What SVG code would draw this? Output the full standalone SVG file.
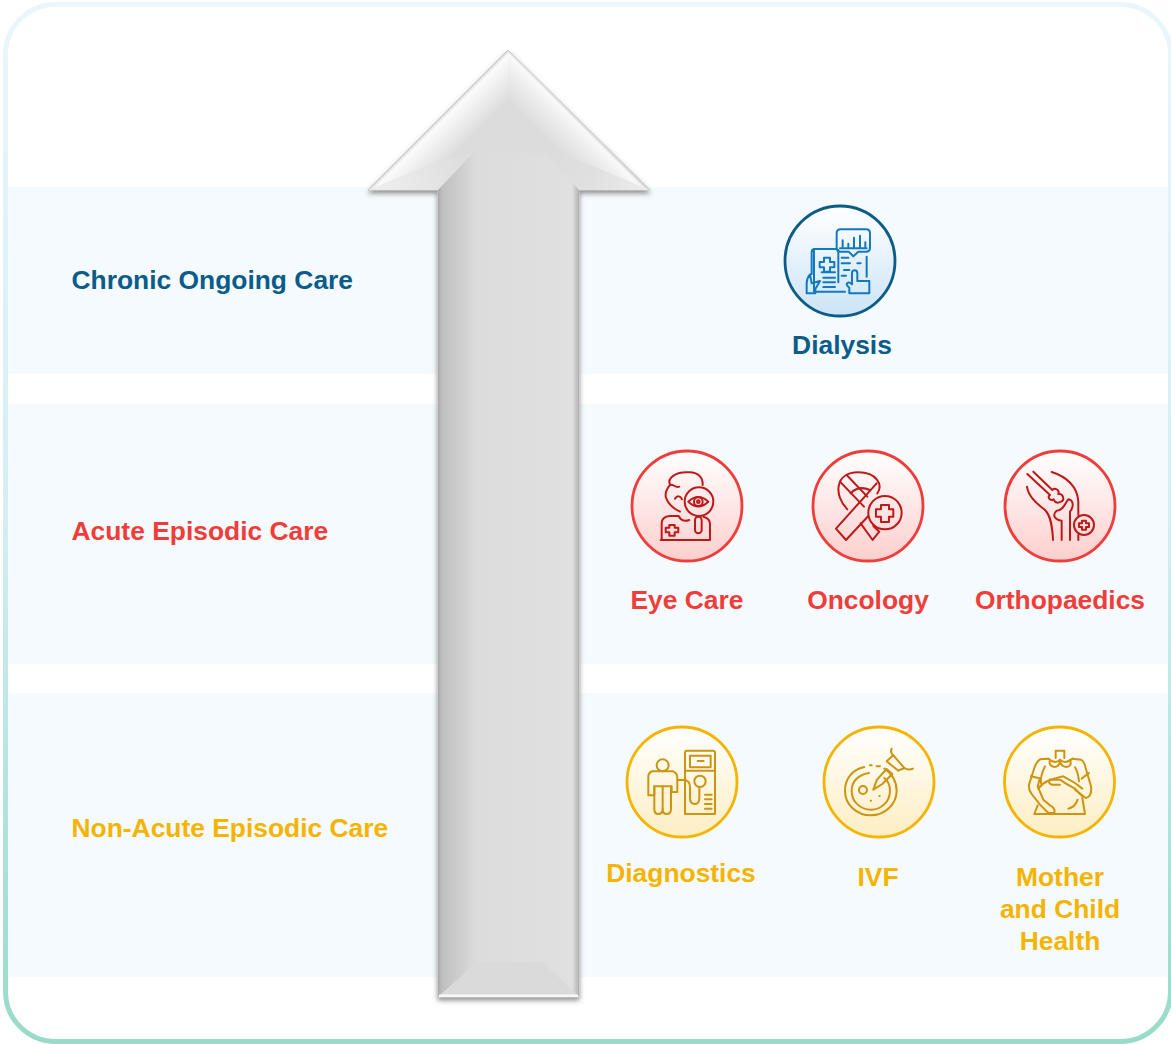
<svg xmlns="http://www.w3.org/2000/svg" width="1171" height="1044" viewBox="0 0 1171 1044">
<style>
.band{fill:#f4fafd}
.t{font-family:"Liberation Sans",Arial,sans-serif;font-weight:700;font-size:26.4px}
.m{text-anchor:middle}
.b{fill:#0b5c8a}.r{fill:#ef3e3a}.y{fill:#f5b400}
.ic{fill:none;stroke-width:6;stroke-linecap:round;stroke-linejoin:round}
.ib{stroke:#1379bd}.ir{stroke:#bb1a1a}.iy{stroke:#cc9410}
</style>
<defs>
<linearGradient id="frame" x1="0" y1="0" x2="0" y2="1"><stop offset="0" stop-color="#eaf6fc"/><stop offset=".5" stop-color="#d4eef2"/><stop offset="1" stop-color="#97dbc8"/></linearGradient>
<linearGradient id="gb" x1="0" y1="0" x2="0" y2="1"><stop offset="0" stop-color="#fff"/><stop offset="1" stop-color="#cbe4f6"/></linearGradient>
<linearGradient id="gr" x1="0" y1="0" x2="0" y2="1"><stop offset="0" stop-color="#fff"/><stop offset="1" stop-color="#fdcfcd"/></linearGradient>
<linearGradient id="gy" x1="0" y1="0" x2="0" y2="1"><stop offset="0" stop-color="#fff"/><stop offset="1" stop-color="#fdeec2"/></linearGradient>
<linearGradient id="shaft" gradientUnits="userSpaceOnUse" x1="438" y1="0" x2="579" y2="0"><stop offset="0" stop-color="#a9a9a9"/><stop offset=".03" stop-color="#c0c0c0"/><stop offset=".28" stop-color="#dcdcdc"/><stop offset=".95" stop-color="#e0e0e0"/><stop offset=".99" stop-color="#bdbdbd"/><stop offset="1" stop-color="#a9a9a9"/></linearGradient>
<linearGradient id="hl" gradientUnits="userSpaceOnUse" x1="438" y1="120" x2="470" y2="152"><stop offset="0" stop-color="#d4d4d4"/><stop offset=".07" stop-color="#fafafa"/><stop offset=".25" stop-color="#f4f4f4"/><stop offset=".8" stop-color="#dcdcdc"/></linearGradient>
<linearGradient id="hr" gradientUnits="userSpaceOnUse" x1="579" y1="120" x2="547" y2="152"><stop offset="0" stop-color="#d4d4d4"/><stop offset=".07" stop-color="#fafafa"/><stop offset=".25" stop-color="#f0f0f0"/><stop offset=".8" stop-color="#dcdcdc"/></linearGradient>
<linearGradient id="wl" gradientUnits="userSpaceOnUse" x1="369" y1="190" x2="470" y2="150"><stop offset="0" stop-color="#f0f0f0"/><stop offset="1" stop-color="#dcdcdc"/></linearGradient>
<linearGradient id="wr" gradientUnits="userSpaceOnUse" x1="649" y1="190" x2="545" y2="150"><stop offset="0" stop-color="#eeeeee"/><stop offset=".5" stop-color="#e0e0e0"/><stop offset="1" stop-color="#dcdcdc"/></linearGradient>
<filter id="sh" x="-10%" y="-5%" width="120%" height="110%"><feDropShadow dx="0" dy="3" stdDeviation="2.500" flood-color="#555" flood-opacity=".65"/></filter>
</defs>

<g id="frame-fill"><rect x="5.500" y="4.500" width="1165" height="1037" rx="50" fill="#fff"/></g>
<g id="bands">
<rect class="band" x="8" y="187" width="1161" height="187"/>
<rect class="band" x="8" y="404" width="1161" height="260"/>
<rect class="band" x="8" y="693" width="1161" height="284"/>
</g>
<g id="frame-box"><rect x="5.500" y="4.500" width="1165" height="1037" rx="50" fill="none" stroke="url(#frame)" stroke-width="5"/></g>

<g id="arrow">
<path d="M508 50L650 190H579V997H438V190H368Z" fill="#dcdcdc" stroke="#c8c8c8" stroke-width="1" filter="url(#sh)"/>
<path d="M508 50.500L369 189.500H438L473 153H508Z" fill="url(#hl)"/>
<path d="M508 50.500L649 189.500H579L545 153H508Z" fill="url(#hr)"/>
<path d="M369 189.500L433 163L473 153L438 190Z" fill="url(#wl)"/>
<path d="M649 189.500L562 153H545L579 190Z" fill="url(#wr)"/>
<path d="M438 190L473 153H545L579 190V996H438Z" fill="url(#shaft)"/>
<path d="M440 995L477 962H543L577 995Z" fill="#dadada"/>
<rect x="439" y="994.500" width="139" height="2.500" fill="#f7f7f7"/>
</g>

<g id="row-chronic"><text class="t b" x="71.500" y="289">Chronic Ongoing Care</text></g>
<g id="row-acute"><text class="t r" x="71.500" y="540">Acute Episodic Care</text></g>
<g id="row-nonacute"><text class="t y" x="71.500" y="837">Non-Acute Episodic Care</text></g>

<g id="dialysis">
<circle cx="840" cy="261" r="55" fill="url(#gb)" stroke="#0b5c86" stroke-width="2.800"/>
<g class="ic ib" transform="translate(770 195) scale(.3333)">
<path d="M212 103H288Q300 103 300 115V158Q300 170 288 170H265L250 184L236 170H212Q200 170 200 158V115Q200 103 212 103Z"/>
<path d="M218 160V136M235 160V146M252 160V128M270 160V122M286 160V142M210 160H290"/>
<path d="M200 162H135Q125 162 125 172V238M132 162V290H225M205 165V262M290 185V245"/>
<path d="M162 188H180V201H193V217H180V230H162V217H149V201H162Z"/>
<path d="M155 232H195M160 248H195M160 262H195M160 276H195"/>
<path d="M215 188H235M215 205H240M262 205H272M222 225H238M215 242H228"/>
<path d="M110 295V265Q110 250 120 238L125 265L150 258L136 282V295Z"/>
<path d="M238 295V278Q226 268 232 264Q238 260 246 268V235Q246 226 254 226Q262 226 262 235V258H298V295Z"/>
</g>
<text class="t b m" x="842" y="354">Dialysis</text>
</g>

<g id="eye-care">
<circle cx="687" cy="506" r="55" fill="url(#gr)" stroke="#ef3e3a" stroke-width="2.800"/>
<g class="ic ir" transform="translate(620 440) scale(.3333)">
<path d="M150 135C140 112 170 95 205 97C232 95 250 112 248 135"/>
<path d="M150 135C160 130 165 145 178 140"/>
<path d="M150 135C138 150 133 165 140 178C148 195 165 208 180 215"/>
<path d="M165 176C172 165 182 168 186 178"/>
<circle cx="237" cy="185" r="43"/>
<path d="M205 185Q235 157 265 185Q235 213 205 185Z"/>
<circle cx="235" cy="185" r="13"/><circle cx="235" cy="185" r="4"/>
<rect x="225" y="230" width="20" height="50" rx="10"/>
<path d="M122 300H270V252Q270 235 250 230M125 300V250Q125 230 150 228H176Q186 248 208 240"/>
<path d="M148 255H164V263H175V277H164V287H148V277H137V263H148Z"/>
</g>
<text class="t r m" x="687" y="609">Eye Care</text>
</g>

<g id="oncology">
<circle cx="868" cy="506" r="55" fill="url(#gr)" stroke="#ef3e3a" stroke-width="2.800"/>
<g class="ic ir" transform="translate(620 440) scale(.3333)">
<path d="M682 208C640 165 645 97 715 97C770 97 790 135 772 160"/>
<path d="M692 160Q715 135 750 150"/>
<path d="M660 125L732 200M680 105L742 170"/>
<path d="M770 130L648 266L678 300L745 228"/>
<path d="M722 250L758 300L778 275L760 258"/>
<circle cx="795" cy="218" r="50"/>
<path d="M783 195H807V208H820V230H807V246H783V230H768V208H783Z"/>
</g>
<text class="t r m" x="868" y="609">Oncology</text>
</g>

<g id="orthopaedics">
<circle cx="1060" cy="506" r="55" fill="url(#gr)" stroke="#ef3e3a" stroke-width="2.800"/>
<g class="ic ir" transform="translate(995 440) scale(.3333)">
<path d="M97 102L165 165C155 170 165 185 176 178C178 185 185 192 198 185C210 180 205 160 190 162C195 150 180 142 172 150L115 95"/>
<path d="M96 140C100 170 125 190 150 210C168 228 172 260 174 300"/>
<path d="M170 96C215 110 248 140 250 185V225M250 285V300"/>
<path d="M200 300V242C180 240 170 225 185 212C205 212 210 190 220 178C235 180 238 200 225 215V300"/>
<circle cx="267" cy="255" r="30"/>
<path d="M261 242H273V250H282V261H273V269H261V261H252V250H261Z"/>
</g>
<text class="t r m" x="1060" y="609">Orthopaedics</text>
</g>

<g id="diagnostics">
<circle cx="682" cy="782" r="55" fill="url(#gy)" stroke="#f5b400" stroke-width="2.800"/>
<g class="ic iy" transform="translate(615 718) scale(.3333)">
<circle cx="143" cy="142" r="18"/>
<path d="M110 160H175Q187 165 187 180V222H170V205H118V232H100V175Q100 165 110 160Z"/>
<path d="M118 205V272Q118 288 130 288Q143 288 143 272Q143 288 155 288Q168 288 168 272V205"/>
<path d="M143 205V272"/>
<path d="M216 98H294Q300 98 300 104V288H210V104Q210 98 216 98Z"/>
<rect x="225" y="113" width="62" height="35"/>
<path d="M248 129H266M210 158H300"/>
<circle cx="255" cy="190" r="17"/>
<path d="M187 186H205Q225 186 225 206V240Q225 258 240 258Q253 258 253 240V207"/>
<path d="M270 230H290M270 244H290M270 258H290M270 272H290"/>
</g>
<text class="t y m" x="681" y="882">Diagnostics</text>
</g>

<g id="ivf">
<circle cx="879" cy="782" r="55" fill="url(#gy)" stroke="#f5b400" stroke-width="2.800"/>
<g class="ic iy" transform="translate(615 718) scale(.3333)">
<path d="M748 147C710 155 690 185 690 218C690 260 725 292 768 292C810 292 845 258 845 218C845 190 830 165 808 152"/>
<path d="M765 142H770M785 145H795"/>
<path d="M762 165C730 170 710 190 710 218C710 250 735 275 768 275C800 275 825 250 825 218C825 200 818 188 808 180"/>
<circle cx="744" cy="216" r="12"/>
<path d="M775 215L786 185L815 153L832 168L802 198Z"/>
<path d="M815 130L835 112L868 150L850 158Z"/>
<path d="M830 92Q825 105 835 112M868 150Q880 158 894 152"/>
<path d="M767 248H768M793 234H794"/>
</g>
<text class="t y m" x="878" y="886">IVF</text>
</g>

<g id="mother-child">
<circle cx="1059.500" cy="782" r="55" fill="url(#gy)" stroke="#f5b400" stroke-width="2.800"/>
<g class="ic iy" transform="translate(995 718) scale(.3333)">
<path d="M182 120V98H208V120"/>
<path d="M160 122Q182 140 195 125Q210 140 232 122"/>
<path d="M165 125Q160 145 178 147Q192 147 195 130Q200 147 215 147Q232 145 225 125"/>
<path d="M160 122L135 124Q125 130 118 150L102 200Q100 215 110 228L135 260L160 285H178Q182 270 165 262L145 245L128 205L135 180"/>
<path d="M232 122L258 125Q268 130 272 150L288 205Q292 235 272 240L240 215"/>
<path d="M150 145Q135 175 138 195M240 148Q250 165 252 190"/>
<path d="M108 175L130 180M260 182L282 165"/>
<path d="M130 212C145 190 165 185 205 175L240 195L262 212"/>
<path d="M165 185H195Q215 200 240 212L262 235"/>
<path d="M165 185Q158 195 170 200H195"/>
<path d="M220 272Q240 268 248 245"/>
<path d="M128 262L118 288H270L262 240"/>
</g>
<text class="t y m" x="1060" y="886">Mother</text>
<text class="t y m" x="1060" y="918">and Child</text>
<text class="t y m" x="1060" y="950">Health</text>
</g>
</svg>
